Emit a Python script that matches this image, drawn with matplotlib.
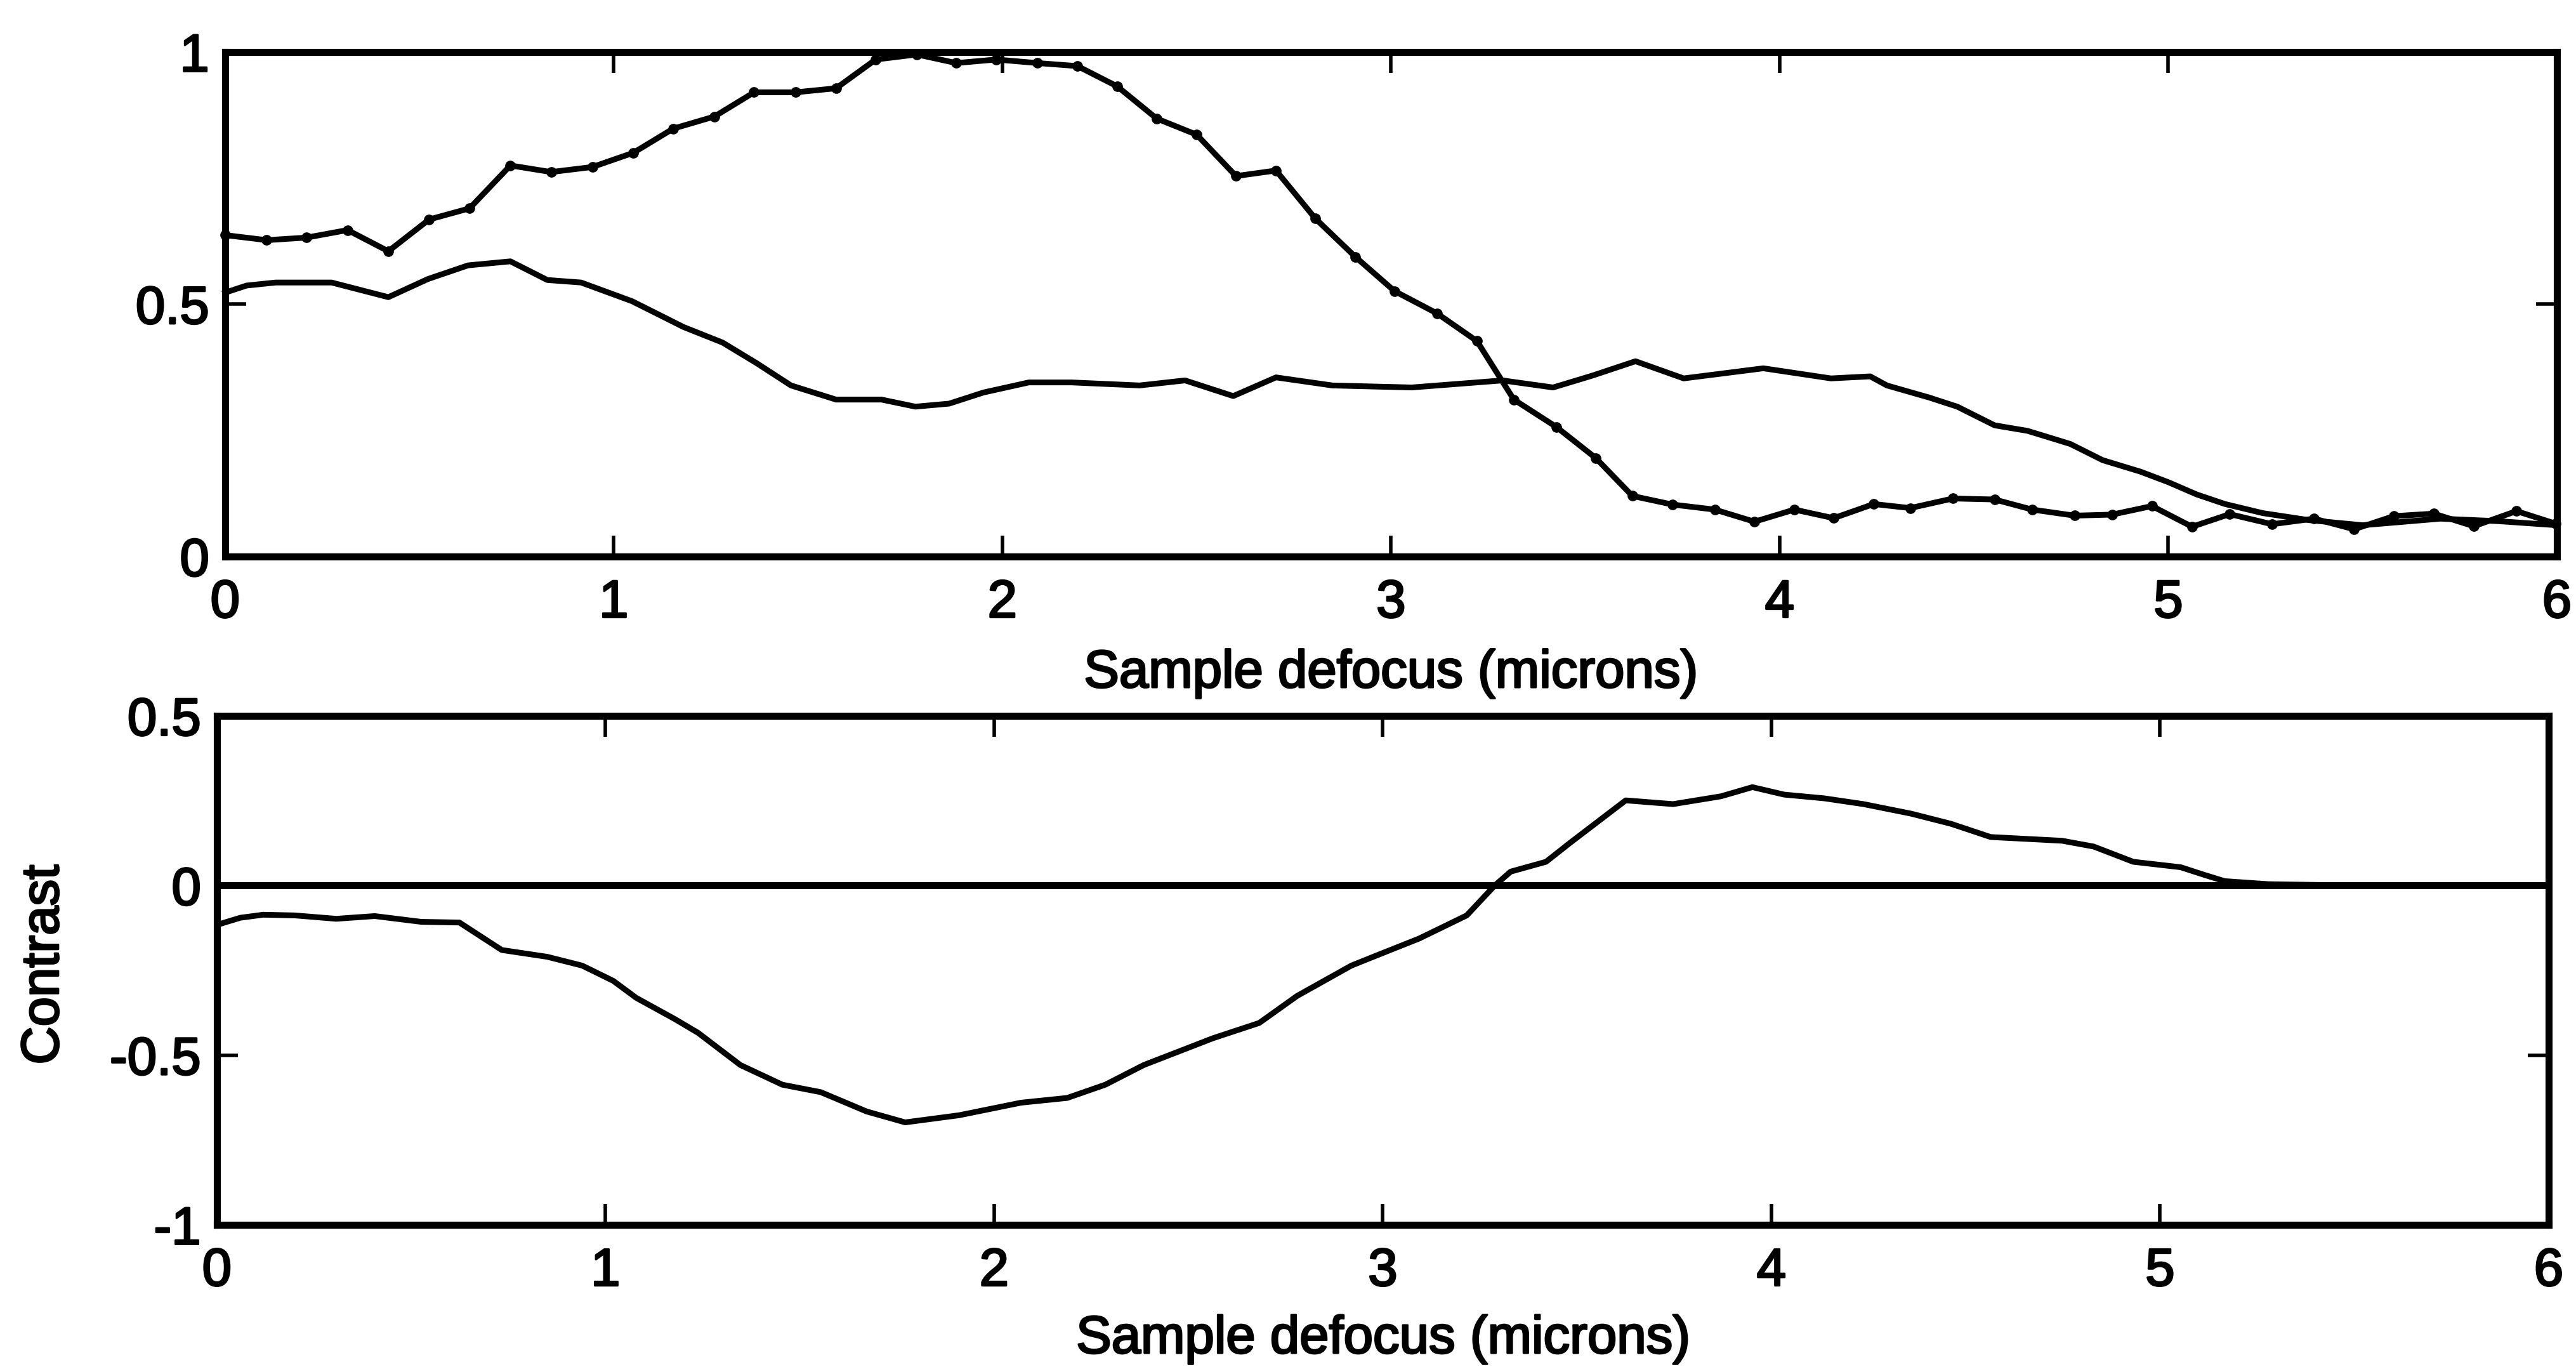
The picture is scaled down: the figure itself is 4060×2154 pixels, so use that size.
import matplotlib
matplotlib.use('Agg')
import matplotlib.pyplot as plt
import matplotlib.patheffects as pe

# Helvetica-like labels, thickened a bit like the scan
plt.rcParams['font.family'] = ['Liberation Sans', 'DejaVu Sans']
heavy = [pe.withStroke(linewidth=2.2, foreground='black')]

# top panel, curve drawn with dots
defocus_dots = [0.0, 0.107, 0.209, 0.315, 0.42, 0.525, 0.629, 0.734, 0.839, 0.945,
                1.05, 1.153, 1.259, 1.361, 1.468, 1.572, 1.674, 1.78, 1.881, 1.984,
                2.09, 2.193, 2.295, 2.397, 2.5, 2.601, 2.704, 2.805, 2.908, 3.009,
                3.118, 3.221, 3.316, 3.425, 3.527, 3.621, 3.724, 3.833, 3.935, 4.038,
                4.139, 4.242, 4.336, 4.446, 4.553, 4.65, 4.759, 4.855, 4.958, 5.061,
                5.158, 5.267, 5.375, 5.478, 5.58, 5.683, 5.786, 5.896, 5.997]
intensity_dots = [0.637, 0.627, 0.632, 0.647, 0.605, 0.668, 0.69, 0.775, 0.762, 0.772,
                  0.80, 0.848, 0.872, 0.92, 0.92, 0.928, 0.985, 0.995, 0.978, 0.985,
                  0.978, 0.972, 0.932, 0.868, 0.836, 0.754, 0.765, 0.67, 0.594, 0.526,
                  0.482, 0.427, 0.311, 0.257, 0.195, 0.12, 0.103, 0.093, 0.069, 0.093,
                  0.076, 0.104, 0.096, 0.115, 0.113, 0.093, 0.081, 0.083, 0.100, 0.059,
                  0.084, 0.064, 0.075, 0.054, 0.08, 0.085, 0.06, 0.09, 0.065]

# top panel, plain curve
defocus_plain = [0.0, 0.055, 0.13, 0.274, 0.42, 0.522, 0.625, 0.734, 0.829, 0.916,
                 1.047, 1.179, 1.28, 1.368, 1.456, 1.572, 1.689, 1.776, 1.863, 1.951,
                 2.068, 2.178, 2.353, 2.47, 2.594, 2.704, 2.849, 3.053, 3.287, 3.417,
                 3.52, 3.629, 3.753, 3.958, 4.132, 4.233, 4.276, 4.385, 4.457, 4.553,
                 4.638, 4.748, 4.831, 4.929, 5.001, 5.073, 5.146, 5.243, 5.363, 5.5,
                 5.7, 5.85, 6.0]
intensity_plain = [0.523, 0.537, 0.543, 0.543, 0.514, 0.55, 0.577, 0.585, 0.548, 0.543,
                   0.506, 0.455, 0.424, 0.383, 0.339, 0.311, 0.311, 0.297, 0.303, 0.325,
                   0.345, 0.345, 0.339, 0.349, 0.318, 0.355, 0.339, 0.335, 0.349, 0.335,
                   0.359, 0.387, 0.353, 0.373, 0.353, 0.357, 0.339, 0.315, 0.297, 0.26,
                   0.249, 0.223, 0.191, 0.168, 0.147, 0.123, 0.104, 0.086, 0.072, 0.062,
                   0.075, 0.07, 0.062]

# bottom panel
defocus_contrast = [0.0, 0.06, 0.119, 0.2, 0.307, 0.406, 0.526, 0.624, 0.733, 0.85,
                    0.94, 1.02, 1.079, 1.179, 1.238, 1.347, 1.455, 1.554, 1.672, 1.771,
                    1.91, 2.069, 2.188, 2.286, 2.385, 2.563, 2.682, 2.78, 2.919, 2.993,
                    3.094, 3.216, 3.288, 3.329, 3.42, 3.482, 3.625, 3.747, 3.87, 3.951,
                    4.033, 4.136, 4.237, 4.359, 4.462, 4.564, 4.748, 4.829, 4.931, 5.053,
                    5.115, 5.166, 5.279, 5.5, 6.0]
contrast = [-0.116, -0.095, -0.086, -0.088, -0.098, -0.09, -0.107, -0.109, -0.19, -0.21,
            -0.236, -0.281, -0.331, -0.394, -0.434, -0.529, -0.587, -0.609, -0.666, -0.698,
            -0.677, -0.64, -0.626, -0.587, -0.529, -0.45, -0.405, -0.325, -0.236, -0.202,
            -0.156, -0.088, 0.0, 0.041, 0.07, 0.126, 0.251, 0.24, 0.263, 0.29,
            0.268, 0.257, 0.24, 0.212, 0.182, 0.143, 0.132, 0.115, 0.07, 0.054,
            0.031, 0.013, 0.004, 0.0, 0.0]

x_ticks = [0, 1, 2, 3, 4, 5, 6]
x_tick_labels = ['0', '1', '2', '3', '4', '5', '6']
top_y_ticks = [0, 0.5, 1]
top_y_labels = ['0', '0.5', '1']
bottom_y_ticks = [-1, -0.5, 0, 0.5]
bottom_y_labels = ['-1', '-0.5', '0', '0.5']
x_label = 'Sample defocus (microns)'
y_label = 'Contrast'

fig = plt.figure(figsize=(40.6, 21.54), dpi=100)
ax1 = fig.add_axes([0.0874, 0.5929, 0.9052, 0.3691])
ax2 = fig.add_axes([0.0842, 0.1040, 0.9052, 0.3723])

fs = 60
for ax in (ax1, ax2):
    for sp in ax.spines.values():
        sp.set_linewidth(8)
    ax.tick_params(axis='both', direction='in', top=True, right=True,
                   length=24, width=4, labelsize=fs)
    ax.tick_params(axis='x', pad=25)
    ax.tick_params(axis='y', pad=18)
    ax.set_xlim(0, 6)
    ax.set_xticks(x_ticks)
    ax.set_xticklabels(x_tick_labels)

# top panel
ax1.plot(defocus_dots, intensity_dots, color='black', lw=6.5,
         marker='o', markersize=11, clip_on=False)
ax1.plot(defocus_plain, intensity_plain, color='black', lw=6.5, clip_on=False)
ax1.set_ylim(0, 1)
ax1.set_yticks(top_y_ticks)
ax1.set_yticklabels(top_y_labels)

# bottom panel
ax2.axhline(0, color='black', lw=8)
ax2.plot(defocus_contrast, contrast, color='black', lw=6.5)
ax2.set_ylim(-1, 0.5)
ax2.set_yticks(bottom_y_ticks)
ax2.set_yticklabels(bottom_y_labels)

for ax in (ax1, ax2):
    for lab in ax.get_xticklabels() + ax.get_yticklabels():
        lab.set_path_effects(heavy)

fig.text(0.54, 0.4972, x_label, ha='center', va='baseline', fontsize=fs, path_effects=heavy)
fig.text(0.537, 0.0102, x_label, ha='center', va='baseline', fontsize=fs, path_effects=heavy)
fig.text(0.0172, 0.2943, y_label, ha='center', va='center', rotation=90, fontsize=fs,
         path_effects=heavy)

fig.savefig('out.png', dpi=100)
